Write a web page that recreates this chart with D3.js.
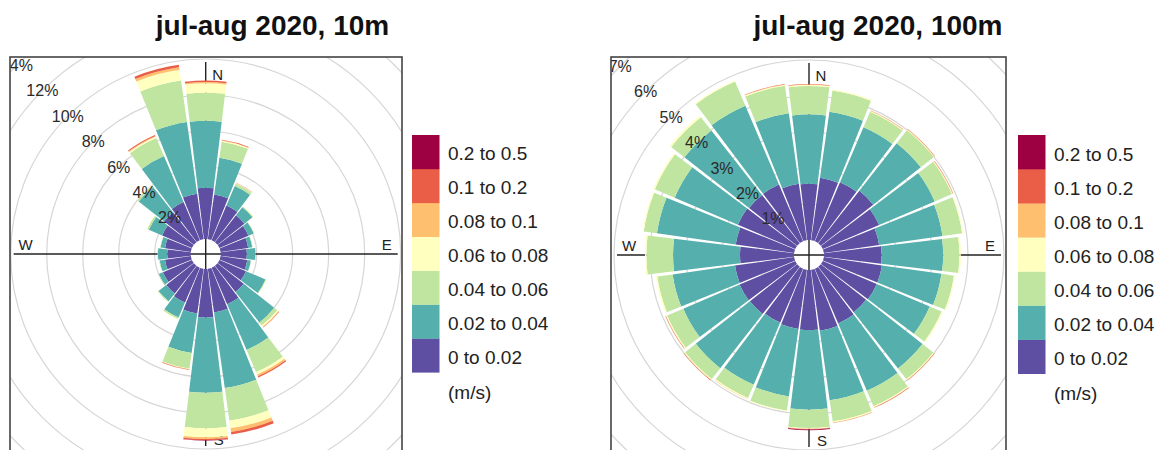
<!DOCTYPE html>
<html>
<head>
<meta charset="utf-8">
<script src="https://cdn.jsdelivr.net/npm/d3@7"></script>
<style>
  html, body { margin: 0; padding: 0; background: #fff; }
  svg { display: block; font-family: "Liberation Sans", Arial, sans-serif; }
</style>
</head>
<body>
<svg id="chart" width="1166" height="450"></svg>
<script>
// ---------------- data ----------------
const directions = [0,15,30,45,60,75,90,105,120,135,150,165,180,195,210,225,240,255,270,285,300,315,330,345];
const speedBins = ["0 to 0.02","0.02 to 0.04","0.04 to 0.06","0.06 to 0.08","0.08 to 0.1","0.1 to 0.2","0.2 to 0.5"];
const speedUnit = "(m/s)";
const palette = ["#5E4FA2","#55AFAD","#BFE5A0","#FFFFBF","#FEBF6F","#EA5D47","#9E0142"];

const title10 = "jul-aug 2020, 10m";
const title100 = "jul-aug 2020, 100m";
const ringTicks10 = [2,4,6,8,10,12,14];
const ringTicks100 = [1,2,3,4,5,6,7];

// frequency (%) per direction, 10 m
const f10_bin1 = [2.85,2.5,2.1,1.9,1.75,1.55,1.45,1.5,1.6,1.85,2.2,2.45,2.7,2.5,2.1,1.95,1.75,1.45,1.3,1.45,1.8,2.1,2.3,2.55];
const f10_bin2 = [3.72,2.07,1.18,0.57,0.32,0.23,0.48,0.2,1.18,2.15,2.76,4.24,4.17,2.22,0.9,0.55,0.25,0.3,0.52,0.25,0.8,1.8,2.78,4.02];
const f10_bin3 = [1.56,0.9,0.14,0.05,0.03,0.02,0.02,0.02,0.04,0.22,1.34,1.83,1.98,0.88,0.1,0.05,0.03,0.03,0.03,0.02,0.1,0.1,1.09,2.33];
const f10_bin4 = [0.52,0.05,0.03,0.02,0.01,0,0,0,0.02,0.08,0.15,0.43,0.5,0.03,0.02,0,0,0,0,0,0.02,0.03,0.08,0.6];
const f10_bin5 = [0.07,0.03,0.01,0,0,0,0,0,0,0.04,0.1,0.2,0.1,0.02,0,0,0,0,0,0,0,0,0.05,0.15];
const f10_bin6 = [0.08,0.03,0.01,0,0,0,0,0,0,0.02,0.07,0.15,0.07,0.03,0,0,0,0,0,0,0,0,0.05,0.13];
const f10_bin7 = [0,0,0,0,0,0,0,0,0,0,0,0,0.02,0,0,0,0,0,0,0,0,0,0,0];

// frequency (%) per direction, 100 m
const f100_bin1 = [1.56,1.75,1.78,1.85,1.7,1.55,1.6,1.63,1.63,1.6,1.65,1.71,1.67,1.66,1.62,1.67,1.68,1.66,1.5,1.64,1.73,1.7,1.71,1.58];
const f100_bin2 = [1.93,1.85,1.66,1.68,1.68,1.78,1.71,1.67,1.6,1.99,2.03,1.95,2.21,1.89,1.88,1.91,1.7,1.75,1.86,2.21,1.91,2.28,2.38,1.98];
const f100_bin3 = [0.79,0.6,0.47,0.46,0.52,0.55,0.45,0.35,0.36,0.38,0.47,0.59,0.51,0.4,0.4,0.38,0.49,0.43,0.74,0.37,0.6,0.47,0.73,0.77];
const f100_bin4 = [0.03,0.03,0.02,0.02,0.02,0.03,0.04,0.03,0.03,0.03,0.03,0.03,0.02,0.02,0.03,0.03,0.03,0.04,0.04,0.03,0.04,0.05,0.03,0.03];
const f100_bin5 = [0.01,0,0.01,0.01,0.01,0,0,0,0,0.01,0.01,0.01,0.01,0,0.01,0.01,0.01,0,0,0,0,0,0,0.01];
const f100_bin6 = [0.01,0,0.01,0.01,0.01,0,0,0,0,0.01,0.01,0.01,0.01,0,0,0.01,0.01,0,0,0,0,0,0,0.01];
const f100_bin7 = [0,0,0,0,0,0,0,0,0,0,0,0,0.02,0,0,0,0,0,0,0,0,0,0,0];

// ---------------- drawing ----------------
const svg = d3.select("#chart");
const DEG = Math.PI / 180;

function drawPanel(cfg) {
  const { id, cx, cy, box, ticks, bins, title, titleX, legendX, legendTop, legendH } = cfg;
  const maxTick = d3.max(ticks);
  const r = d3.scaleLinear().domain([0, maxTick]).range([15, 267]);

  const clipId = "clip-" + id;
  svg.append("defs").append("clipPath").attr("id", clipId)
    .append("rect").attr("x", box.x).attr("y", box.y).attr("width", box.w).attr("height", box.h);

  const pg = svg.append("g").attr("clip-path", `url(#${clipId})`);

  // rings
  pg.selectAll("circle.ring").data(ticks).join("circle")
    .attr("class", "ring")
    .attr("cx", cx).attr("cy", cy).attr("r", d => r(d))
    .attr("fill", "none").attr("stroke", "#d6d6d6").attr("stroke-width", 1.2);

  // axes
  const L = 192;
  pg.append("line").attr("x1", cx - L).attr("x2", cx + L).attr("y1", cy).attr("y2", cy)
    .attr("stroke", "#222").attr("stroke-width", 1.4);
  pg.append("line").attr("x1", cx).attr("x2", cx).attr("y1", cy - L).attr("y2", cy + L)
    .attr("stroke", "#222").attr("stroke-width", 1.4);

  // compass labels (beneath bars)
  const comp = [
    { t: "N", x: cx + 12, y: cy - 180 },
    { t: "S", x: cx + 13, y: cy + 185 },
    { t: "W", x: cx - 180, y: cy - 10 },
    { t: "E", x: cx + 181, y: cy - 10 }
  ];
  pg.selectAll("text.comp").data(comp).join("text")
    .attr("class", "comp")
    .attr("x", d => d.x).attr("y", d => d.y)
    .attr("text-anchor", "middle").attr("dominant-baseline", "central")
    .attr("font-size", 15).attr("fill", "#222")
    .text(d => d.t);

  // stacked bars
  const segs = [];
  directions.forEach((dir, i) => {
    let cum = 0;
    bins.forEach((arr, j) => {
      const v = arr[i];
      if (v > 0) {
        segs.push({ dir, j, r0: cum, r1: cum + v });
        cum += v;
      }
    });
  });
  const pad = 0.6;
  const arc = d3.arc()
    .innerRadius(d => r(d.r0))
    .outerRadius(d => r(d.r1))
    .startAngle(d => (d.dir - 7.5 + pad) * DEG)
    .endAngle(d => (d.dir + 7.5 - pad) * DEG);
  pg.append("g").attr("transform", `translate(${cx},${cy})`)
    .selectAll("path").data(segs).join("path")
    .attr("d", arc)
    .attr("fill", d => palette[d.j]);

  // ring labels along NW diagonal
  pg.selectAll("text.rlab").data(ticks).join("text")
    .attr("class", "rlab")
    .attr("x", d => cx - r(d) * Math.SQRT1_2)
    .attr("y", d => cy - r(d) * Math.SQRT1_2)
    .attr("text-anchor", "middle").attr("dominant-baseline", "central")
    .attr("font-size", 16).attr("fill", "#2a2a2a")
    .text(d => d + "%");

  // box
  svg.append("rect").attr("x", box.x).attr("y", box.y).attr("width", box.w).attr("height", box.h)
    .attr("fill", "none").attr("stroke", "#444").attr("stroke-width", 1.6);

  // title
  svg.append("text").attr("x", titleX).attr("y", 35)
    .attr("text-anchor", "middle").attr("font-weight", "bold").attr("font-size", 28)
    .attr("fill", "#111").text(title);

  // legend
  const n = speedBins.length;
  const lg = svg.append("g");
  lg.selectAll("rect").data(speedBins).join("rect")
    .attr("x", legendX).attr("width", 27.5)
    .attr("y", (d, j) => legendTop + (n - 1 - j) * legendH)
    .attr("height", legendH + 0.3)
    .attr("fill", (d, j) => palette[j]);
  lg.selectAll("text.lab").data(speedBins).join("text")
    .attr("class", "lab")
    .attr("x", legendX + 36)
    .attr("y", (d, j) => legendTop + (n - 1 - j) * legendH + legendH / 2 + 2)
    .attr("dominant-baseline", "central")
    .attr("font-size", 19).attr("fill", "#222")
    .text(d => d);
  lg.append("text").attr("x", legendX + 36).attr("y", legendTop + n * legendH + 20)
    .attr("dominant-baseline", "central").attr("font-size", 19).attr("fill", "#222")
    .text(speedUnit);
}

drawPanel({
  id: "p10", cx: 205.7, cy: 254,
  box: { x: 10, y: 57, w: 392, h: 400 },
  ticks: ringTicks10,
  bins: [f10_bin1, f10_bin2, f10_bin3, f10_bin4, f10_bin5, f10_bin6, f10_bin7],
  title: title10, titleX: 272.5,
  legendX: 412, legendTop: 135, legendH: 33.9
});

drawPanel({
  id: "p100", cx: 809, cy: 255,
  box: { x: 611, y: 57, w: 395, h: 400 },
  ticks: ringTicks100,
  bins: [f100_bin1, f100_bin2, f100_bin3, f100_bin4, f100_bin5, f100_bin6, f100_bin7],
  title: title100, titleX: 878,
  legendX: 1018, legendTop: 135, legendH: 34.1
});
</script>
</body>
</html>
